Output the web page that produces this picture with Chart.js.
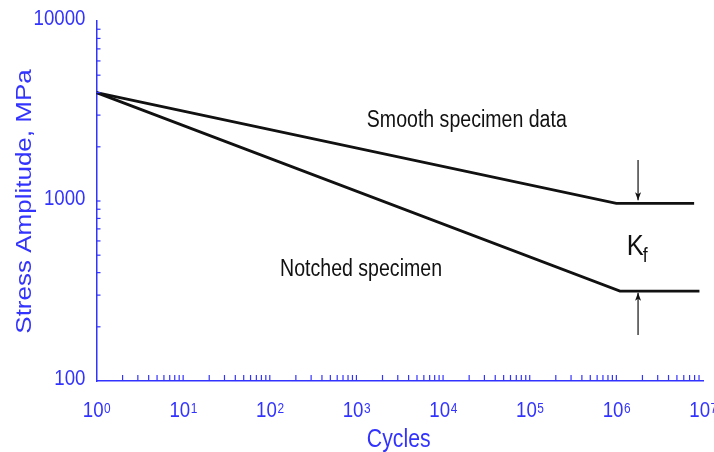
<!DOCTYPE html>
<html>
<head>
<meta charset="utf-8">
<script src="https://cdn.jsdelivr.net/npm/chart.js@4/dist/chart.umd.min.js"></script>
<style>
  body { margin: 0; background: #fff; }
  #chart { display: block; }
</style>
</head>
<body>
<canvas id="chart" width="714" height="452" style="width:714px;height:452px"></canvas>
<script>
// cycles / stress amplitude (MPa)
var smoothCycles = [1, 1e6, 7.9e6];
var smoothStress = [4000, 970, 970];

var notchedCycles = [1, 1.1e6, 9.1e6];
var notchedStress = [4000, 316, 316];

// the two Kf arrows
var arrowCycles = [1.78e6, 1.78e6];
var upperArrowStress = [1690, 1010];
var lowerArrowStress = [180, 309];

var xTickExponents = [0, 1, 2, 3, 4, 5, 6, 7];
var yTickValues = [100, 1000, 10000];

var blue = 'rgb(51,51,255)';
var fontName = '"Liberation Sans", Arial, sans-serif';
var squash = 0.85; // the picture is a bit narrow horizontally

function toPoints(xs, ys) {
  var pts = [];
  for (var i = 0; i < xs.length; i++) pts.push({ x: xs[i], y: ys[i] });
  return pts;
}

function drawText(ctx, text, x, y, size, color, align) {
  ctx.save();
  ctx.translate(x, y);
  ctx.scale(squash, 1);
  ctx.font = size + 'px ' + fontName;
  ctx.fillStyle = color;
  ctx.textAlign = align || 'left';
  ctx.textBaseline = 'alphabetic';
  ctx.fillText(text, 0, 0);
  ctx.restore();
}

function textWidth(ctx, text, size) {
  ctx.font = size + 'px ' + fontName;
  return ctx.measureText(text).width * squash;
}

// ticks, tick labels, titles, notes and arrow heads
var extrasPlugin = {
  id: 'extras',
  afterDatasetsDraw: function (chart) {
    var ctx = chart.ctx;
    var xs = chart.scales.x;
    var ys = chart.scales.y;
    var area = chart.chartArea;

    ctx.save();
    ctx.strokeStyle = blue;
    ctx.lineWidth = 1.2;

    // x axis: inward ticks for every 1..9 of each decade
    for (var e = 0; e < 7; e++) {
      for (var m = 1; m <= 9; m++) {
        var px = xs.getPixelForValue(m * Math.pow(10, e));
        if (e === 0 && m === 1) continue;
        ctx.beginPath();
        ctx.moveTo(px, area.bottom);
        ctx.lineTo(px, area.bottom - 6);
        ctx.stroke();
      }
    }
    // y axis: inward ticks
    for (var d = 2; d < 4; d++) {
      for (var k = 1; k <= 9; k++) {
        var py = ys.getPixelForValue(k * Math.pow(10, d));
        if (d === 2 && k === 1) continue;
        ctx.beginPath();
        ctx.moveTo(area.left, py);
        ctx.lineTo(area.left + 4, py);
        ctx.stroke();
      }
    }
    ctx.restore();

    // x tick labels 10^n
    xTickExponents.forEach(function (n) {
      var cx = xs.getPixelForValue(Math.pow(10, n));
      var wBase = textWidth(ctx, '10', 22);
      var wExp = textWidth(ctx, String(n), 14);
      var left = cx - (wBase + wExp) / 2;
      drawText(ctx, '10', left, area.bottom + 36, 22, blue);
      drawText(ctx, String(n), left + wBase + 0.5, area.bottom + 32, 14, blue);
    });

    // y tick labels
    yTickValues.forEach(function (v) {
      var cy = ys.getPixelForValue(v);
      drawText(ctx, String(v), area.left - 11, cy + 4, 22, blue, 'right');
    });

    // axis titles
    ctx.save();
    ctx.translate(31, (area.top + area.bottom) / 2 + 0.5);
    ctx.scale(squash, 1);
    ctx.rotate(-Math.PI / 2);
    ctx.font = '26px ' + fontName;
    ctx.fillStyle = blue;
    ctx.textAlign = 'center';
    ctx.fillText('Stress Amplitude, MPa', 0, 0);
    ctx.restore();
    drawText(ctx, 'Cycles', (area.left + area.right) / 2 - 1, area.bottom + 66, 25, blue, 'center');

    // notes
    drawText(ctx, 'Smooth specimen data', xs.getPixelForValue(1318), ys.getPixelForValue(2578), 23, '#111');
    drawText(ctx, 'Notched specimen', xs.getPixelForValue(131.5), ys.getPixelForValue(383), 23, '#111');
    var kx = xs.getPixelForValue(1.32e6);
    var ky = ys.getPixelForValue(501);
    drawText(ctx, 'K', kx, ky, 30, '#111');
    drawText(ctx, 'f', kx + textWidth(ctx, 'K', 30) - 1, ky + 7, 21, '#111');

    // arrow heads at the end of the arrow datasets
    chart.data.datasets.forEach(function (ds) {
      if (!ds.arrow) return;
      var n = ds.data.length;
      var tip = { x: xs.getPixelForValue(ds.data[n - 1].x), y: ys.getPixelForValue(ds.data[n - 1].y) };
      var from = { x: xs.getPixelForValue(ds.data[n - 2].x), y: ys.getPixelForValue(ds.data[n - 2].y) };
      var ang = Math.atan2(tip.y - from.y, tip.x - from.x);
      var len = 8, half = 3;
      ctx.save();
      ctx.fillStyle = '#111';
      ctx.translate(tip.x, tip.y);
      ctx.rotate(ang);
      ctx.beginPath();
      ctx.moveTo(0, 0);
      ctx.lineTo(-len, -half);
      ctx.lineTo(-len + 2, 0);
      ctx.lineTo(-len, half);
      ctx.closePath();
      ctx.fill();
      ctx.restore();
    });
  }
};

var lineStyle = { borderColor: '#111', borderWidth: 2.8, pointRadius: 0, fill: false, tension: 0 };

new Chart(document.getElementById('chart'), {
  type: 'line',
  data: {
    datasets: [
      Object.assign({ label: 'Smooth specimen data', data: toPoints(smoothCycles, smoothStress) }, lineStyle),
      Object.assign({ label: 'Notched specimen', data: toPoints(notchedCycles, notchedStress) }, lineStyle),
      { label: 'upper arrow', arrow: true, data: toPoints(arrowCycles, upperArrowStress),
        borderColor: '#111', borderWidth: 1.2, pointRadius: 0, fill: false },
      { label: 'lower arrow', arrow: true, data: toPoints(arrowCycles, lowerArrowStress),
        borderColor: '#111', borderWidth: 1.2, pointRadius: 0, fill: false }
    ]
  },
  options: {
    responsive: false,
    animation: false,
    parsing: false,
    layout: { padding: { top: 21, right: 11, left: 0, bottom: 0 } },
    plugins: {
      legend: { display: false },
      tooltip: { enabled: false }
    },
    scales: {
      x: {
        type: 'logarithmic',
        min: 1,
        max: 1e7,
        ticks: { display: false },
        grid: { display: false },
        border: { color: blue, width: 1.5 },
        afterFit: function (scale) { scale.height = 71; }
      },
      y: {
        type: 'logarithmic',
        min: 100,
        max: 10000,
        ticks: { display: false },
        grid: { display: false },
        border: { color: blue, width: 1.5 },
        afterFit: function (scale) { scale.width = 96.5; }
      }
    }
  },
  plugins: [extrasPlugin]
});
</script>
</body>
</html>
